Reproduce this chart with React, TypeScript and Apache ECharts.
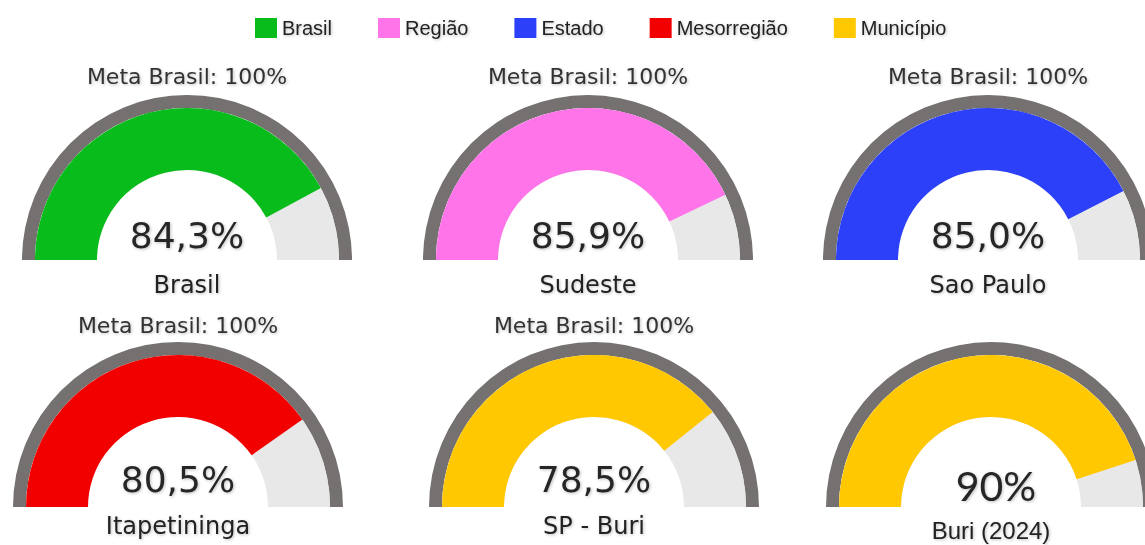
import React, { useEffect, useRef } from 'react';
import * as echarts from 'echarts';

// ---- data ----
const legendNames = ['Brasil', 'Região', 'Estado', 'Mesorregião', 'Município'];
const legendColors = ['#08BC1C', '#FF74E8', '#2B40F8', '#F20000', '#FFC800'];
const gaugeLabels = ['Brasil', 'Sudeste', 'Sao Paulo', 'Itapetininga', 'SP - Buri', 'Buri (2024)'];
const gaugeValues = [84.3, 85.9, 85.0, 80.5, 78.5, 90];
const gaugeDecimals = [1, 1, 1, 1, 1, 0];
const gaugeGroup = [0, 1, 2, 3, 4, 4];
const metaValues = [100, 100, 100, 100, 100, 100];
const metaShown = [true, true, true, true, true, false];

// ---- layout (not data) ----
const layout = [
  { c: [187, 260], vx: 0, v: -25, l: 25, m: -184 },
  { c: [588, 260], vx: 0, v: -25, l: 25, m: -184 },
  { c: [988, 260], vx: 0, v: -25, l: 25, m: -184 },
  { c: [178, 507], vx: 0, v: -28, l: 19, m: -182 },
  { c: [594, 507], vx: 0, v: -28, l: 19, m: -182 },
  { c: [991, 507], vx: 5, v: -22, l: 23, m: -182 },
];

const RING = '#767171';
const REST = '#E8E8E8';
const FONT = 'DejaVu Sans';
const shadow = { textShadowColor: 'rgba(0,0,0,0.25)', textShadowBlur: 3, textShadowOffsetX: 1, textShadowOffsetY: 1 };

function fmt(v: number, d: number) {
  return v.toFixed(d).replace('.', ',') + '%';
}

export default function App() {
  const ref = useRef<HTMLDivElement>(null);
  useEffect(() => {
    if (!ref.current) return;
    const chart = echarts.init(ref.current, undefined, { renderer: 'svg' });
    const series: any[] = [];
    gaugeValues.forEach((v, i) => {
      const L = layout[i];
      const last = i === 5;
      const common = {
        type: 'gauge',
        center: L.c,
        startAngle: 180,
        endAngle: 0,
        min: 0,
        max: 100,
        pointer: { show: false },
        anchor: { show: false },
        axisTick: { show: false },
        splitLine: { show: false },
        axisLabel: { show: false },
      };
      series.push({
        ...common,
        radius: 165,
        silent: true,
        z: 1,
        axisLine: { lineStyle: { width: 13, color: [[1, RING]] } },
        progress: { show: false },
        title: {
          show: metaShown[i],
          offsetCenter: [0, L.m],
          fontSize: 22,
          fontFamily: FONT,
          color: '#333',
          ...shadow,
        },
        detail: { show: false },
        data: [{ value: metaValues[i], name: 'Meta Brasil: ' + metaValues[i] + '%' }],
      });
      const col = legendColors[gaugeGroup[i]];
      series.push({
        ...common,
        name: legendNames[gaugeGroup[i]],
        radius: 152,
        z: 2,
        itemStyle: { color: col },
        axisLine: { lineStyle: { width: 62, color: [[1, REST]] } },
        progress: { show: true, width: 62, itemStyle: { color: col } },
        title: {
          offsetCenter: [0, L.l],
          fontSize: 24,
          fontFamily: last ? 'Liberation Sans' : FONT,
          color: '#222',
          ...shadow,
        },
        detail: {
          offsetCenter: [L.vx, L.v],
          fontSize: last ? 41 : 36,
          fontWeight: 'normal',
          fontFamily: last ? 'Lato' : FONT,
          color: '#262626',
          formatter: (val: number) => fmt(val, gaugeDecimals[i]),
          ...shadow,
        },
        data: [{ value: v, name: gaugeLabels[i] }],
      });
    });
    chart.setOption({
      animation: false,
      backgroundColor: '#fff',
      legend: {
        data: legendNames.map((n, i) => ({ name: n, itemStyle: { color: legendColors[i] } })),
        left: 255,
        top: 18,
        padding: 0,
        itemWidth: 22,
        itemHeight: 20,
        itemGap: 46,
        icon: 'rect',
        selectedMode: false,
        textStyle: { fontFamily: 'Liberation Sans', fontSize: 20, color: '#222', ...shadow },
      },
      series,
    });
    return () => chart.dispose();
  }, []);
  return <div ref={ref} style={{ position: 'fixed', left: 0, top: 0, width: 1145, height: 545 }} />;
}
